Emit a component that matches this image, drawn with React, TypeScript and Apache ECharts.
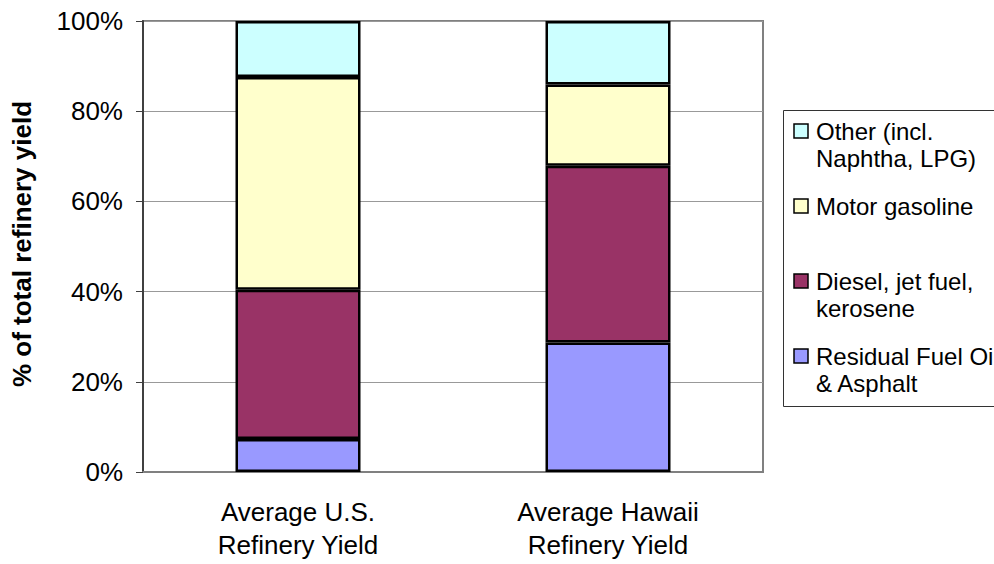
import React, { useEffect, useRef } from "react";
import * as echarts from "echarts";

const categories = ["Average U.S.\nRefinery Yield", "Average Hawaii\nRefinery Yield"];
const seriesNames = [
  "Residual Fuel Oil\n& Asphalt",
  "Diesel, jet fuel,\nkerosene",
  "Motor gasoline",
  "Other (incl.\nNaphtha, LPG)",
];
const residual = [7.3, 28.7];
const diesel = [33.1, 39.2];
const gasoline = [47.2, 18.0];
const other = [12.4, 14.1];
const yTicks = { min: 0, max: 100, interval: 20 };
const colors = ["#9999FF", "#993366", "#FFFFCC", "#CCFFFF"];

const FONT = "'Liberation Sans', Arial, sans-serif";

export default function App() {
  const ref = useRef<HTMLDivElement>(null);
  useEffect(() => {
    if (!ref.current) return;
    const chart = echarts.init(ref.current, undefined, { renderer: "svg" });
    const values = [residual, diesel, gasoline, other];
    const series = seriesNames.map((name, i) => ({
      name,
      type: "bar",
      stack: "total",
      barWidth: 125,
      data: values[i],
      itemStyle: { color: colors[i], borderColor: "#000", borderWidth: 2.5 },
    }));

    const legendTop = 131;
    const legendStep = 75;
    const legendChildren: any[] = [
      {
        type: "rect",
        shape: { x: 783.5, y: 110.5, width: 300, height: 296 },
        style: { fill: "#fff", stroke: "#333", lineWidth: 1 },
      },
    ];
    const order = [3, 2, 1, 0];
    order.forEach((si, k) => {
      const cy = legendTop + k * legendStep;
      legendChildren.push({
        type: "rect",
        shape: { x: 794, y: cy - 7, width: 14, height: 14 },
        style: { fill: colors[si], stroke: "#000", lineWidth: 1.5 },
      });
      legendChildren.push({
        type: "text",
        style: {
          text: seriesNames[si],
          x: 816,
          y: cy - 13.5,
          font: `24px ${FONT}`,
          fontSize: 24,
          fontFamily: FONT,
          lineHeight: 27,
          fill: "#000",
          verticalAlign: "top",
          align: "left",
        },
      });
    });

    chart.setOption({
      animation: false,
      textStyle: { fontFamily: FONT },
      grid: {
        left: 143,
        right: 231,
        top: 21,
        bottom: 92,
        show: true,
        borderColor: "#808080",
        borderWidth: 2,
        backgroundColor: "transparent",
      },
      xAxis: {
        type: "category",
        data: categories,
        axisLine: { lineStyle: { color: "#808080", width: 2 } },
        axisTick: { show: false },
        axisLabel: {
          interval: 0,
          fontSize: 26,
          lineHeight: 33,
          color: "#000",
          margin: 23,
          fontFamily: FONT,
        },
      },
      yAxis: {
        type: "value",
        min: yTicks.min,
        max: yTicks.max,
        interval: yTicks.interval,
        axisLine: { show: true, lineStyle: { color: "#404040", width: 2 } },
        axisTick: { show: true, inside: false, length: 7, lineStyle: { color: "#404040", width: 1 } },
        axisLabel: {
          formatter: "{value}%",
          fontSize: 26,
          color: "#000",
          margin: 20,
          fontFamily: FONT,
        },
        splitLine: { show: true, lineStyle: { color: "#999", width: 1 } },
      },
      series,
      graphic: [
        {
          type: "text",
          x: 22,
          y: 244,
          rotation: Math.PI / 2,
          style: {
            text: "% of total refinery yield",
            font: `bold 26px ${FONT}`,
            fill: "#000",
            align: "center",
            verticalAlign: "middle",
          },
        },
        { type: "group", children: legendChildren },
      ],
    });
    return () => chart.dispose();
  }, []);
  return (
    <div
      ref={ref}
      style={{ position: "fixed", left: 0, top: 0, width: 994, height: 564, background: "#fff" }}
    />
  );
}
